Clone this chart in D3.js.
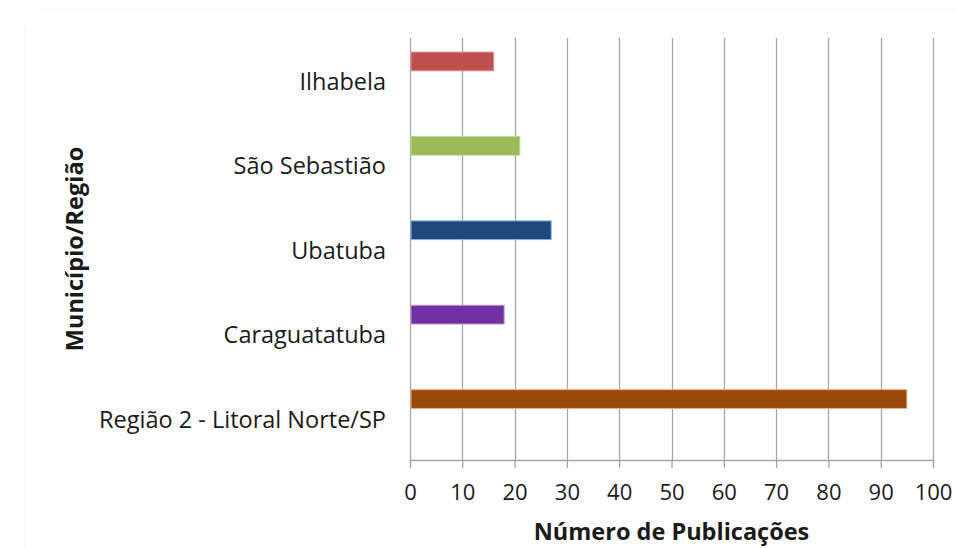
<!DOCTYPE html>
<html>
<head>
<meta charset="utf-8">
<script src="https://cdn.jsdelivr.net/npm/d3@7"></script>
<style>
  body { margin: 0; background: #fff; }
  svg { display: block; }
  text { font-family: "Open Sans", "Noto Sans", sans-serif; fill: #1a1a1a; }
</style>
</head>
<body>
<svg id="chart" width="956" height="548"></svg>
<script>
// categories from top to bottom, as shown in the chart
const categories = ['Ilhabela', 'São Sebastião', 'Ubatuba', 'Caraguatatuba', 'Região 2 - Litoral Norte/SP'];
const values = [16, 21, 27, 18, 95];
const colors = ['#C0504D', '#9BBB59', '#1F497D', '#7030A0', '#984807'];
const strokes = ['#d99694', '#c3d69b', '#8eb4e3', '#b3a2c7', '#e8b08a'];
const xTicks = [0, 10, 20, 30, 40, 50, 60, 70, 80, 90, 100];
const slots = ['a', 'b', 'c'];

const svg = d3.select('#chart');
const margin = {top: 38, right: 23, bottom: 88, left: 410};
const W = 956, H = 548;
const w = W - margin.left - margin.right;
const h = H - margin.top - margin.bottom;

// faint outer frame
svg.append('line').attr('x1', 40).attr('x2', W).attr('y1', 10.5).attr('y2', 10.5)
  .attr('stroke', '#f5f5f5').attr('stroke-width', 1);
svg.append('line').attr('x1', 24.5).attr('x2', 24.5).attr('y1', 28).attr('y2', H)
  .attr('stroke', '#f5f5f5').attr('stroke-width', 1);

const g = svg.append('g').attr('transform', `translate(${margin.left},${margin.top})`);

const x = d3.scaleLinear().domain([0, 100]).range([0, w]);
const y = d3.scaleBand().domain(categories).range([0, h]);
const slot = d3.scaleBand().domain(slots).range([0, y.bandwidth()]).paddingInner(0).paddingOuter(0.75);

// gridlines
g.selectAll('.grid')
  .data(xTicks)
  .enter()
  .append('line')
  .attr('class', 'grid')
  .attr('x1', d => Math.round(x(d)) + 0.5)
  .attr('x2', d => Math.round(x(d)) + 0.5)
  .attr('y1', 0)
  .attr('y2', h)
  .attr('stroke', '#a6a6a6')
  .attr('stroke-width', 1.3);

// bars
g.selectAll('.bar')
  .data(values)
  .enter()
  .append('rect')
  .attr('class', 'bar')
  .attr('x', x(0) + 1)
  .attr('y', (d, i) => y(categories[i]) + slot('a'))
  .attr('width', d => x(d) - x(0) - 1)
  .attr('height', slot.bandwidth())
  .attr('fill', (d, i) => colors[i])
  .attr('stroke', (d, i) => strokes[i])
  .attr('stroke-width', 1);

// x axis
const xAxis = g.append('g')
  .attr('transform', `translate(0,${h})`)
  .call(d3.axisBottom(x).tickValues(xTicks).tickSize(8).tickPadding(16));
xAxis.select('.domain').attr('stroke', '#a6a6a6').attr('stroke-width', 1.3);
xAxis.selectAll('.tick line').attr('stroke', '#a6a6a6').attr('stroke-width', 1.3);
xAxis.selectAll('.tick text')
  .attr('font-size', 22)
  .attr('fill', '#1a1a1a')
  .style('font-family', '"Open Sans", sans-serif');

// y labels
g.selectAll('.ylab')
  .data(categories)
  .enter()
  .append('text')
  .attr('class', 'ylab')
  .attr('x', -24)
  .attr('y', d => y(d) + y.bandwidth() / 2)
  .attr('dy', '0.42em')
  .attr('text-anchor', 'end')
  .attr('font-size', 23.5)
  .text(d => d);

// axis titles
svg.append('text')
  .attr('x', margin.left + w / 2)
  .attr('y', 540)
  .attr('text-anchor', 'middle')
  .attr('font-size', 23.5)
  .attr('font-weight', 'bold')
  .text('Número de Publicações');

svg.append('text')
  .attr('transform', `translate(75,${margin.top + h / 2}) rotate(-90)`)
  .attr('dy', '0.36em')
  .attr('text-anchor', 'middle')
  .attr('font-size', 23.5)
  .attr('font-weight', 'bold')
  .text('Município/Região');
</script>
</body>
</html>
